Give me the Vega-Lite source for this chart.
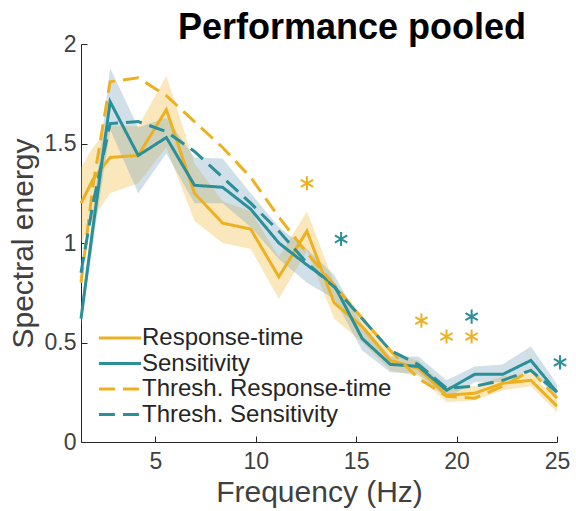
{
  "$schema": "https://vega.github.io/schema/vega-lite/v6.json",
  "width": 476,
  "height": 398,
  "autosize": {"type": "none"},
  "padding": {"left": 81, "top": 44, "right": 19, "bottom": 69},
  "background": "white",
  "title": {"text": "Performance pooled", "fontSize": 36, "font": "Liberation Sans", "fontWeight": "bold", "color": "#000000", "anchor": "middle", "dx": 33, "offset": -14},
  "config": {
    "view": {"stroke": null},
    "axis": {"grid": false, "domainColor": "#262626", "tickColor": "#262626", "labelColor": "#404040", "labelFont": "Liberation Sans", "labelFontSize": 23, "titleFont": "Liberation Sans", "titleFontSize": 30, "titleFontWeight": "normal", "titleColor": "#404040", "tickSize": -6, "tickWidth": 1, "domainWidth": 1, "labelFlush": false}
  },
  "datasets": {
    "main": [
      {"f": 1.3, "series": "Response-time", "v": 1.2, "lo": 1.0, "hi": 1.38},
      {"f": 1.9, "series": "Response-time", "v": 1.32, "lo": 1.12, "hi": 1.48},
      {"f": 2.75, "series": "Response-time", "v": 1.43, "lo": 1.25, "hi": 1.59},
      {"f": 4.15, "series": "Response-time", "v": 1.44, "lo": 1.3, "hi": 1.585},
      {"f": 5.55, "series": "Response-time", "v": 1.67, "lo": 1.48, "hi": 1.84},
      {"f": 6.95, "series": "Response-time", "v": 1.25, "lo": 1.11, "hi": 1.4},
      {"f": 8.35, "series": "Response-time", "v": 1.1, "lo": 1.0, "hi": 1.21},
      {"f": 9.75, "series": "Response-time", "v": 1.07, "lo": 0.97, "hi": 1.16},
      {"f": 11.15, "series": "Response-time", "v": 0.83, "lo": 0.72, "hi": 0.93},
      {"f": 12.55, "series": "Response-time", "v": 1.06, "lo": 0.96, "hi": 1.16},
      {"f": 13.9, "series": "Response-time", "v": 0.7, "lo": 0.62, "hi": 0.8},
      {"f": 15.3, "series": "Response-time", "v": 0.58, "lo": 0.5, "hi": 0.64},
      {"f": 16.7, "series": "Response-time", "v": 0.41, "lo": 0.36, "hi": 0.45},
      {"f": 18.1, "series": "Response-time", "v": 0.37, "lo": 0.33, "hi": 0.41},
      {"f": 19.5, "series": "Response-time", "v": 0.235, "lo": 0.2, "hi": 0.27},
      {"f": 20.9, "series": "Response-time", "v": 0.245, "lo": 0.21, "hi": 0.28},
      {"f": 22.3, "series": "Response-time", "v": 0.295, "lo": 0.26, "hi": 0.33},
      {"f": 23.7, "series": "Response-time", "v": 0.31, "lo": 0.28, "hi": 0.345},
      {"f": 25, "series": "Response-time", "v": 0.18, "lo": 0.15, "hi": 0.21},
      {"f": 1.3, "series": "Sensitivity", "v": 0.62, "lo": 0.58, "hi": 0.66},
      {"f": 1.9, "series": "Sensitivity", "v": 1.08, "lo": 1.0, "hi": 1.16},
      {"f": 2.75, "series": "Sensitivity", "v": 1.71, "lo": 1.57, "hi": 1.88},
      {"f": 4.15, "series": "Sensitivity", "v": 1.44, "lo": 1.25, "hi": 1.58},
      {"f": 5.55, "series": "Sensitivity", "v": 1.53, "lo": 1.45, "hi": 1.63},
      {"f": 6.95, "series": "Sensitivity", "v": 1.29, "lo": 1.2, "hi": 1.43},
      {"f": 8.35, "series": "Sensitivity", "v": 1.28, "lo": 1.2, "hi": 1.425},
      {"f": 9.75, "series": "Sensitivity", "v": 1.17, "lo": 1.08, "hi": 1.25},
      {"f": 11.15, "series": "Sensitivity", "v": 1.0, "lo": 0.92, "hi": 1.08},
      {"f": 12.55, "series": "Sensitivity", "v": 0.89, "lo": 0.8, "hi": 0.97},
      {"f": 13.9, "series": "Sensitivity", "v": 0.79, "lo": 0.72, "hi": 0.84},
      {"f": 15.3, "series": "Sensitivity", "v": 0.52, "lo": 0.46, "hi": 0.59},
      {"f": 16.7, "series": "Sensitivity", "v": 0.39, "lo": 0.35, "hi": 0.43},
      {"f": 18.1, "series": "Sensitivity", "v": 0.38, "lo": 0.34, "hi": 0.43},
      {"f": 19.5, "series": "Sensitivity", "v": 0.26, "lo": 0.22, "hi": 0.31},
      {"f": 20.9, "series": "Sensitivity", "v": 0.34, "lo": 0.3, "hi": 0.38},
      {"f": 22.3, "series": "Sensitivity", "v": 0.34, "lo": 0.3, "hi": 0.39},
      {"f": 23.7, "series": "Sensitivity", "v": 0.41, "lo": 0.36, "hi": 0.48},
      {"f": 25, "series": "Sensitivity", "v": 0.25, "lo": 0.22, "hi": 0.29},
      {"f": 1.3, "series": "Thresh. Response-time", "v": 0.8},
      {"f": 1.9, "series": "Thresh. Response-time", "v": 1.29},
      {"f": 2.75, "series": "Thresh. Response-time", "v": 1.81},
      {"f": 4.15, "series": "Thresh. Response-time", "v": 1.83},
      {"f": 5.55, "series": "Thresh. Response-time", "v": 1.74},
      {"f": 6.95, "series": "Thresh. Response-time", "v": 1.61},
      {"f": 8.35, "series": "Thresh. Response-time", "v": 1.48},
      {"f": 9.75, "series": "Thresh. Response-time", "v": 1.33},
      {"f": 11.15, "series": "Thresh. Response-time", "v": 1.13},
      {"f": 12.55, "series": "Thresh. Response-time", "v": 0.95},
      {"f": 13.9, "series": "Thresh. Response-time", "v": 0.79},
      {"f": 15.3, "series": "Thresh. Response-time", "v": 0.62},
      {"f": 16.7, "series": "Thresh. Response-time", "v": 0.46},
      {"f": 18.1, "series": "Thresh. Response-time", "v": 0.32},
      {"f": 19.5, "series": "Thresh. Response-time", "v": 0.23},
      {"f": 20.9, "series": "Thresh. Response-time", "v": 0.22},
      {"f": 22.3, "series": "Thresh. Response-time", "v": 0.28},
      {"f": 23.7, "series": "Thresh. Response-time", "v": 0.36},
      {"f": 25, "series": "Thresh. Response-time", "v": 0.22},
      {"f": 1.3, "series": "Thresh. Sensitivity", "v": 0.85},
      {"f": 1.9, "series": "Thresh. Sensitivity", "v": 1.2},
      {"f": 2.75, "series": "Thresh. Sensitivity", "v": 1.6},
      {"f": 4.15, "series": "Thresh. Sensitivity", "v": 1.61},
      {"f": 5.55, "series": "Thresh. Sensitivity", "v": 1.56},
      {"f": 6.95, "series": "Thresh. Sensitivity", "v": 1.46},
      {"f": 8.35, "series": "Thresh. Sensitivity", "v": 1.33},
      {"f": 9.75, "series": "Thresh. Sensitivity", "v": 1.2},
      {"f": 11.15, "series": "Thresh. Sensitivity", "v": 1.06},
      {"f": 12.55, "series": "Thresh. Sensitivity", "v": 0.9},
      {"f": 13.9, "series": "Thresh. Sensitivity", "v": 0.78},
      {"f": 15.3, "series": "Thresh. Sensitivity", "v": 0.62},
      {"f": 16.7, "series": "Thresh. Sensitivity", "v": 0.46},
      {"f": 18.1, "series": "Thresh. Sensitivity", "v": 0.39},
      {"f": 19.5, "series": "Thresh. Sensitivity", "v": 0.27},
      {"f": 20.9, "series": "Thresh. Sensitivity", "v": 0.28},
      {"f": 22.3, "series": "Thresh. Sensitivity", "v": 0.31},
      {"f": 23.7, "series": "Thresh. Sensitivity", "v": 0.36},
      {"f": 25, "series": "Thresh. Sensitivity", "v": 0.25}
    ],
    "stars": [
      {"f": 12.55, "v": 1.3, "series": "Response-time"},
      {"f": 18.25, "v": 0.61, "series": "Response-time"},
      {"f": 19.5, "v": 0.53, "series": "Response-time"},
      {"f": 20.75, "v": 0.53, "series": "Response-time"},
      {"f": 14.25, "v": 1.02, "series": "Sensitivity"},
      {"f": 20.75, "v": 0.63, "series": "Sensitivity"},
      {"f": 25.15, "v": 0.4, "series": "Sensitivity"}
    ]
  },
  "encoding": {
    "x": {"field": "f", "type": "quantitative", "scale": {"domain": [1.3, 25], "nice": false, "zero": false},
      "axis": {"values": [5, 10, 15, 20, 25], "title": "Frequency (Hz)", "labelPadding": 14, "titlePadding": 4}},
    "y": {"type": "quantitative", "scale": {"domain": [0, 2], "nice": false},
      "axis": {"values": [0, 0.5, 1, 1.5, 2], "format": "~g", "title": "Spectral energy", "labelPadding": 11, "titlePadding": 6}}
  },
  "layer": [
    {
      "data": {"name": "main"},
      "transform": [{"filter": "datum.series === 'Response-time'"}],
      "mark": {"type": "area", "color": "#EDB120", "opacity": 0.3},
      "encoding": {"y": {"field": "lo", "type": "quantitative"}, "y2": {"field": "hi"}}
    },
    {
      "data": {"name": "main"},
      "transform": [{"filter": "datum.series === 'Sensitivity'"}],
      "mark": {"type": "area", "color": "#6F9FB8", "opacity": 0.32},
      "encoding": {"y": {"field": "lo", "type": "quantitative"}, "y2": {"field": "hi"}}
    },
    {
      "data": {"name": "main"},
      "mark": {"type": "line", "strokeWidth": 3},
      "encoding": {
        "y": {"field": "v", "type": "quantitative"},
        "color": {"field": "series", "type": "nominal",
          "scale": {"domain": ["Response-time", "Sensitivity", "Thresh. Response-time", "Thresh. Sensitivity"], "range": ["#EDB120", "#2A8F98", "#EDB120", "#2A8F98"]},
          "legend": {"orient": "none", "legendX": 27, "legendY": 282, "title": null, "padding": 0, "symbolType": "M-5,0L5,0", "symbolSize": 71, "symbolStrokeWidth": 3, "labelFontSize": 24, "labelFont": "Liberation Sans", "labelColor": "#262626", "labelOffset": 10, "rowPadding": 1.5, "labelLimit": 400}},
        "strokeDash": {"field": "series", "type": "nominal",
          "scale": {"domain": ["Response-time", "Sensitivity", "Thresh. Response-time", "Thresh. Sensitivity"], "range": [[1, 0], [1, 0], [16, 8], [16, 8]]}}
      }
    },
    {
      "data": {"name": "stars"},
      "transform": [{"filter": "datum.series === 'Response-time'"}],
      "mark": {"type": "point", "shape": "M0,-1L0,1M-0.87,-0.5L0.87,0.5M-0.87,0.5L0.87,-0.5", "size": 200, "filled": false, "strokeWidth": 2, "color": "#EDB120", "opacity": 1, "clip": false},
      "encoding": {"y": {"field": "v", "type": "quantitative"}}
    },
    {
      "data": {"name": "stars"},
      "transform": [{"filter": "datum.series === 'Sensitivity'"}],
      "mark": {"type": "point", "shape": "M0,-1L0,1M-0.87,-0.5L0.87,0.5M-0.87,0.5L0.87,-0.5", "size": 200, "filled": false, "strokeWidth": 2, "color": "#2A8F98", "opacity": 1, "clip": false},
      "encoding": {"y": {"field": "v", "type": "quantitative"}}
    }
  ]
}
